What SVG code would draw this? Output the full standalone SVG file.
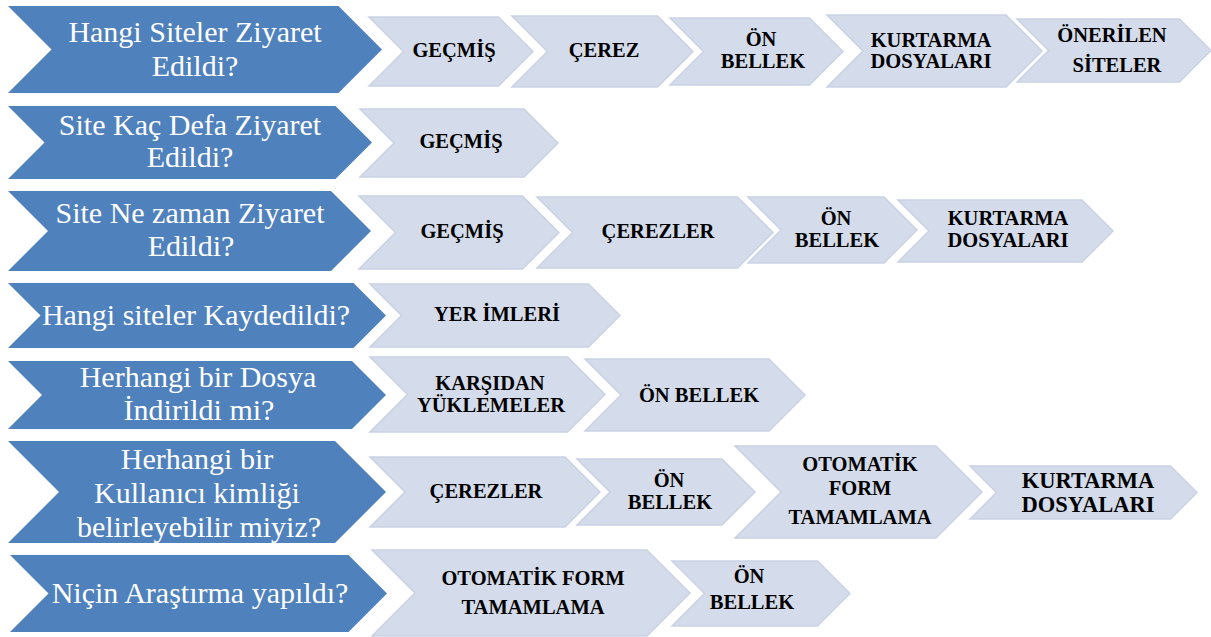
<svg xmlns="http://www.w3.org/2000/svg" width="1211" height="637" viewBox="0 0 1211 637">
<style>
.q{fill:#4F81BD}
.a{fill:#D4DBEA;stroke:#C9D2E5;stroke-width:1.5}
.qt{font-size:30px;fill:#FFFFFF;text-anchor:middle}
.at{font-size:20.5px;font-weight:bold;fill:#000000;text-anchor:middle}
.big{font-size:22.5px}
</style>
<rect width="1211" height="637" fill="#FFFFFF"/>
<g id="row1">
<g id="q1"><polygon class="q" points="8,6 338.5,6 382,49.5 338.5,93 8,93 51.5,49.5"/><text font-family="Liberation Serif" class="qt" x="195" y="42">Hangi Siteler Ziyaret</text><text font-family="Liberation Serif" class="qt" x="195" y="76">Edildi?</text></g>
<g id="r1a"><polygon class="a" points="369,17 498.5,17 533,51.5 498.5,86 369,86 403.5,51.5"/><text font-family="Liberation Serif" class="at" x="454" y="57">GE&#199;M&#304;&#350;</text></g>
<g id="r1b"><polygon class="a" points="512,16 657.5,16 693,51.5 657.5,87 512,87 547.5,51.5"/><text font-family="Liberation Serif" class="at" x="604" y="57">&#199;EREZ</text></g>
<g id="r1c"><polygon class="a" points="670,18 809.5,18 843,51.5 809.5,85 670,85 703.5,51.5"/><text font-family="Liberation Serif" class="at" x="761" y="46">&#214;N</text><text font-family="Liberation Serif" class="at" x="763" y="68">BELLEK</text></g>
<g id="r1d"><polygon class="a" points="827,15 1006,15 1042,51 1006,87 827,87 863,51"/><text font-family="Liberation Serif" class="at" x="931" y="47">KURTARMA</text><text font-family="Liberation Serif" class="at" x="931" y="68">DOSYALARI</text></g>
<g id="r1e"><polygon class="a" points="1017,19 1179.5,19 1211,50.5 1179.5,82 1017,82 1048.5,50.5"/><text font-family="Liberation Serif" class="at" x="1112" y="42">&#214;NER&#304;LEN</text><text font-family="Liberation Serif" class="at" x="1117" y="72">S&#304;TELER</text></g>
</g>
<g id="row2">
<g id="q2"><polygon class="q" points="8,106 335.5,106 372,142.5 335.5,179 8,179 44.5,142.5"/><text font-family="Liberation Serif" class="qt" x="190" y="135">Site Ka&#231; Defa Ziyaret</text><text font-family="Liberation Serif" class="qt" x="190" y="167">Edildi?</text></g>
<g id="r2a"><polygon class="a" points="360,109 524,109 558,143 524,177 360,177 394,143"/><text font-family="Liberation Serif" class="at" x="461" y="148">GE&#199;M&#304;&#350;</text></g>
</g>
<g id="row3">
<g id="q3"><polygon class="q" points="8,191 331,191 371,231 331,271 8,271 48,231"/><text font-family="Liberation Serif" class="qt" x="190" y="223">Site Ne zaman Ziyaret</text><text font-family="Liberation Serif" class="qt" x="191" y="256">Edildi?</text></g>
<g id="r3a"><polygon class="a" points="359,196 522.5,196 559,232.5 522.5,269 359,269 395.5,232.5"/><text font-family="Liberation Serif" class="at" x="462" y="238">GE&#199;M&#304;&#350;</text></g>
<g id="r3b"><polygon class="a" points="537,197 737.5,197 773,232.5 737.5,268 537,268 572.5,232.5"/><text font-family="Liberation Serif" class="at" x="658" y="238">&#199;EREZLER</text></g>
<g id="r3c"><polygon class="a" points="748,197 884,197 917,230 884,263 748,263 781,230"/><text font-family="Liberation Serif" class="at" x="836" y="225">&#214;N</text><text font-family="Liberation Serif" class="at" x="837" y="247">BELLEK</text></g>
<g id="r3d"><polygon class="a" points="898,200 1082,200 1113,231 1082,262 898,262 929,231"/><text font-family="Liberation Serif" class="at" x="1008" y="225">KURTARMA</text><text font-family="Liberation Serif" class="at" x="1008" y="247">DOSYALARI</text></g>
</g>
<g id="row4">
<g id="q4"><polygon class="q" points="8,283 353.5,283 386,315.5 353.5,348 8,348 40.5,315.5"/><text font-family="Liberation Serif" class="qt" x="196" y="325">Hangi siteler Kaydedildi?</text></g>
<g id="r4a"><polygon class="a" points="370,284 588.5,284 620,315.5 588.5,347 370,347 401.5,315.5"/><text font-family="Liberation Serif" class="at" x="497" y="321">YER &#304;MLER&#304;</text></g>
</g>
<g id="row5">
<g id="q5"><polygon class="q" points="8,361 352,361 386,395 352,429 8,429 42,395"/><text font-family="Liberation Serif" class="qt" x="198" y="387">Herhangi bir Dosya</text><text font-family="Liberation Serif" class="qt" x="199" y="420">&#304;ndirildi mi?</text></g>
<g id="r5a"><polygon class="a" points="370,357 567.5,357 605,394.5 567.5,432 370,432 407.5,394.5"/><text font-family="Liberation Serif" class="at" x="490" y="390">KAR&#350;IDAN</text><text font-family="Liberation Serif" class="at" x="491" y="412">Y&#220;KLEMELER</text></g>
<g id="r5b"><polygon class="a" points="585,359 769,359 805,395 769,431 585,431 621,395"/><text font-family="Liberation Serif" class="at" x="699" y="402">&#214;N BELLEK</text></g>
</g>
<g id="row6">
<g id="q6"><polygon class="q" points="8,441 335,441 386,492 335,543 8,543 59,492"/><text font-family="Liberation Serif" class="qt" x="197" y="469">Herhangi bir</text><text font-family="Liberation Serif" class="qt" x="197" y="503">Kullan&#305;c&#305; kimli&#287;i</text><text font-family="Liberation Serif" class="qt" x="199" y="537">belirleyebilir miyiz?</text></g>
<g id="r6a"><polygon class="a" points="370,457 565,457 600,492 565,527 370,527 405,492"/><text font-family="Liberation Serif" class="at" x="486" y="498">&#199;EREZLER</text></g>
<g id="r6b"><polygon class="a" points="577,459 722,459 755,492 722,525 577,525 610,492"/><text font-family="Liberation Serif" class="at" x="669" y="487">&#214;N</text><text font-family="Liberation Serif" class="at" x="670" y="509">BELLEK</text></g>
<g id="r6c"><polygon class="a" points="735,446 936,446 982,492 936,538 735,538 781,492"/><text font-family="Liberation Serif" class="at" x="860" y="471">OTOMAT&#304;K</text><text font-family="Liberation Serif" class="at" x="860" y="495">FORM</text><text font-family="Liberation Serif" class="at" x="860" y="524">TAMAMLAMA</text></g>
<g id="r6d"><polygon class="a" points="970,466 1170.5,466 1197,492.5 1170.5,519 970,519 996.5,492.5"/><text font-family="Liberation Serif" class="at big" x="1088" y="488">KURTARMA</text><text font-family="Liberation Serif" class="at big" x="1088" y="512">DOSYALARI</text></g>
</g>
<g id="row7">
<g id="q7"><polygon class="q" points="10,555 348.5,555 387,593.5 348.5,632 10,632 48.5,593.5"/><text font-family="Liberation Serif" class="qt" x="200" y="603">Ni&#231;in Ara&#351;t&#305;rma yap&#305;ld&#305;?</text></g>
<g id="r7a"><polygon class="a" points="372,550 647,550 690,593 647,636 372,636 415,593"/><text font-family="Liberation Serif" class="at" x="533" y="585">OTOMAT&#304;K FORM</text><text font-family="Liberation Serif" class="at" x="533" y="614">TAMAMLAMA</text></g>
<g id="r7b"><polygon class="a" points="672,561 817.5,561 850,593.5 817.5,626 672,626 704.5,593.5"/><text font-family="Liberation Serif" class="at" x="749" y="583">&#214;N</text><text font-family="Liberation Serif" class="at" x="752" y="609">BELLEK</text></g>
</g>
</svg>
